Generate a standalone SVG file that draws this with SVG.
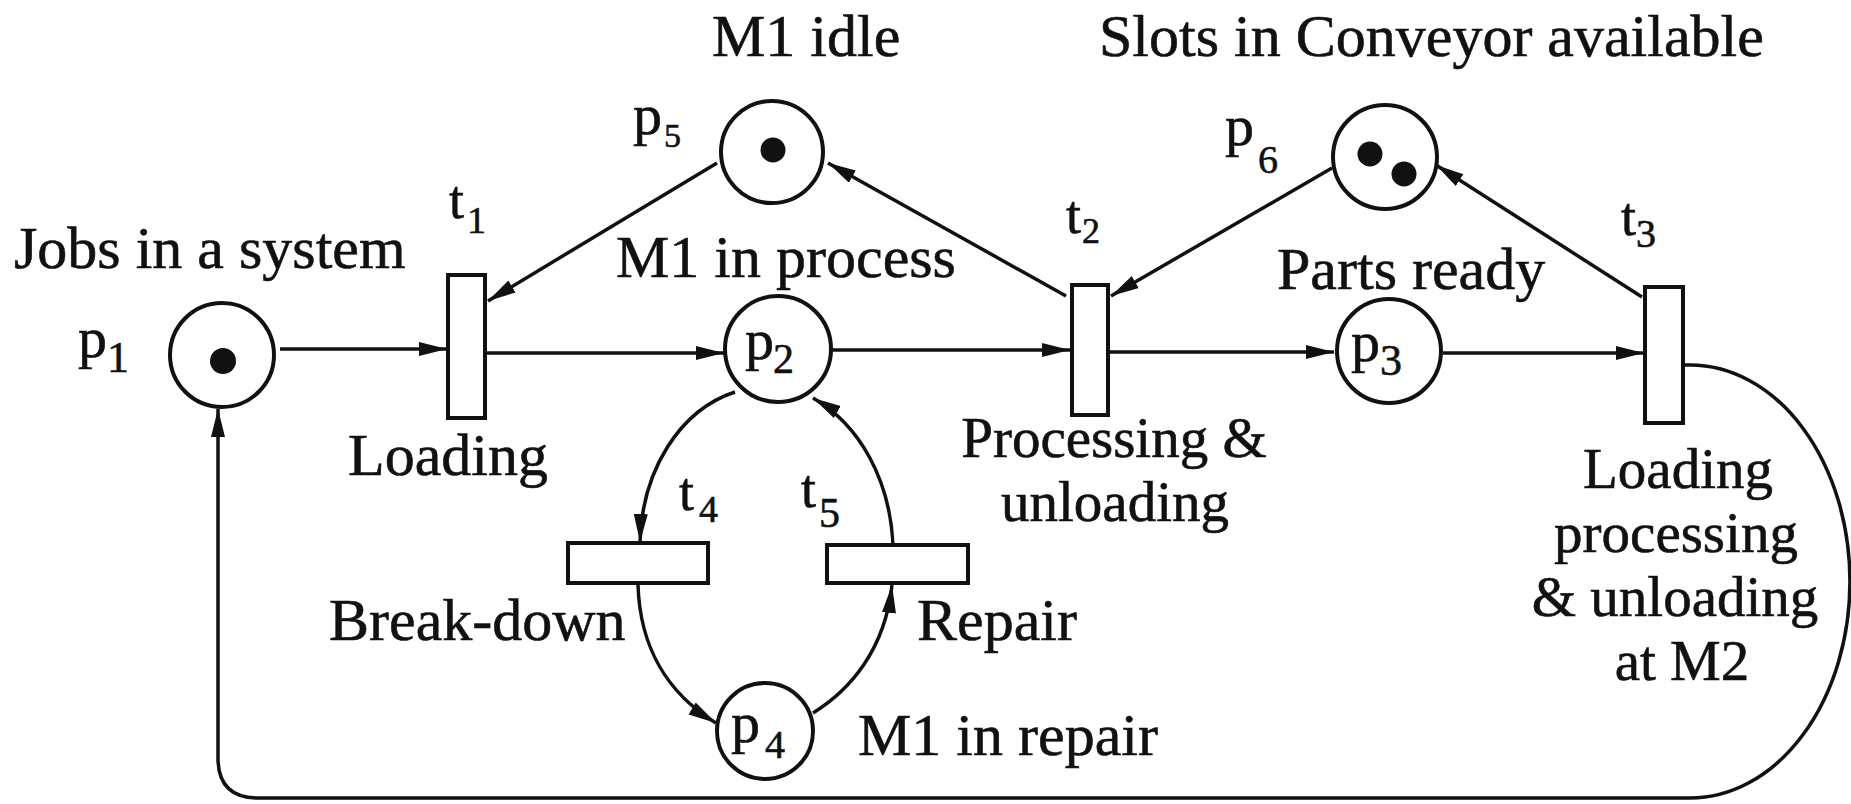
<svg xmlns="http://www.w3.org/2000/svg" width="1851" height="804" viewBox="0 0 1851 804">
<style>
.lbl{font-family:"Liberation Serif","Times New Roman",serif;font-size:60px;fill:#111;stroke:#111;stroke-width:0.6}
.ml{font-family:"Liberation Serif","Times New Roman",serif;font-size:57px;fill:#111;stroke:#111;stroke-width:0.6}
.pl{font-family:"Liberation Serif","Times New Roman",serif;font-size:58px;fill:#111;stroke:#111;stroke-width:0.6}
.tl{font-family:"Liberation Serif","Times New Roman",serif;font-size:54px;fill:#111;stroke:#111;stroke-width:0.6}
.place{fill:#fff;stroke:#111;stroke-width:4}
.trans{fill:#fff;stroke:#111;stroke-width:4}
.tok{fill:#111}
.arc{fill:none;stroke:#111;stroke-width:3.5}
</style>
<defs>
<marker id="ah" markerUnits="userSpaceOnUse" markerWidth="30" markerHeight="16" refX="28" refY="7" orient="auto">
<path d="M0,0 L28,7 L0,14 z" fill="#111"/>
</marker>
</defs>
<rect width="1851" height="804" fill="#fff"/>

<g id="connectors">
<path class="arc" d="M280,349 L447,349" marker-end="url(#ah)"/>
<path class="arc" d="M485,353 L724,353" marker-end="url(#ah)"/>
<path class="arc" d="M832,350 L1070,350" marker-end="url(#ah)"/>
<path class="arc" d="M1108,352 L1334,352" marker-end="url(#ah)"/>
<path class="arc" d="M1443,353 L1644,353" marker-end="url(#ah)"/>
<path class="arc" d="M717,163 L488,301" marker-end="url(#ah)"/>
<path class="arc" d="M1066,296 L828,163" marker-end="url(#ah)"/>
<path class="arc" d="M1332,168 L1111,296" marker-end="url(#ah)"/>
<path class="arc" d="M1642,297 L1436,165" marker-end="url(#ah)"/>
<path class="arc" d="M735,392 C680,410 642,470 640,542" marker-end="url(#ah)"/>
<path class="arc" d="M638,585 C640,650 670,695 716,723" marker-end="url(#ah)"/>
<path class="arc" d="M813,713 C850,690 885,650 892,585" marker-end="url(#ah)"/>
<path class="arc" d="M893,545 C890,480 860,425 813,398" marker-end="url(#ah)"/>
<path class="arc" d="M1683,365 L1690,365 A160,216.5 0 0 1 1690,798 L258,798 Q218,798 218,758 L218,409" marker-end="url(#ah)"/>
</g>

<g id="p1">
<circle class="place" cx="222" cy="355" r="52"/>
<circle class="tok" cx="223" cy="361" r="13"/>
<text class="pl" x="78" y="357">p<tspan x="107" y="372" font-size="44">1</tspan></text>
<text class="lbl" x="14" y="268">Jobs in a system</text>
</g>
<g id="p2">
<circle class="place" cx="778" cy="349" r="53"/>
<text class="pl" x="745" y="359">p<tspan x="773" y="373" font-size="42">2</tspan></text>
<text class="lbl" x="616" y="277">M1 in process</text>
</g>
<g id="p3">
<circle class="place" cx="1389" cy="351" r="52"/>
<text class="pl" x="1351" y="361">p<tspan x="1380" y="375" font-size="44">3</tspan></text>
<text class="lbl" x="1277" y="289">Parts ready</text>
</g>
<g id="p4">
<circle class="place" cx="765" cy="731" r="48"/>
<text class="pl" x="731" y="742" font-size="48">p<tspan x="765" y="758" font-size="40">4</tspan></text>
<text class="lbl" x="858" y="755">M1 in repair</text>
</g>
<g id="p5">
<circle class="place" cx="772" cy="152" r="51"/>
<circle class="tok" cx="773" cy="150" r="12.5"/>
<text class="pl" x="633" y="134" font-size="44">p<tspan x="664" y="147" font-size="34">5</tspan></text>
<text class="lbl" x="712" y="56">M1 idle</text>
</g>
<g id="p6">
<circle class="place" cx="1385" cy="157" r="52"/>
<circle class="tok" cx="1370" cy="154" r="12.5"/>
<circle class="tok" cx="1404" cy="174" r="12.5"/>
<text class="pl" x="1225" y="145">p<tspan x="1258" y="173" font-size="40">6</tspan></text>
<text class="lbl" x="1099" y="56">Slots in Conveyor available</text>
</g>
<g id="t1">
<rect class="trans" x="448" y="275" width="37" height="143"/>
<text class="tl" x="449" y="218">t<tspan x="467" y="233" font-size="38">1</tspan></text>
<text class="lbl" x="348" y="475">Loading</text>
</g>
<g id="t2">
<rect class="trans" x="1072" y="285" width="36" height="130"/>
<text class="tl" x="1066" y="233">t<tspan x="1082" y="243" font-size="36">2</tspan></text>
<text class="ml" text-anchor="middle"><tspan x="1114" y="457">Processing &amp;</tspan><tspan x="1115" y="521">unloading</tspan></text>
</g>
<g id="t3">
<rect class="trans" x="1645" y="287" width="38" height="136"/>
<text class="tl" x="1621" y="235">t<tspan x="1636" y="247" font-size="40">3</tspan></text>
<text class="ml" text-anchor="middle"><tspan x="1678" y="488">Loading</tspan><tspan x="1676" y="552">processing</tspan><tspan x="1675" y="616">&amp; unloading</tspan><tspan x="1682" y="680">at M2</tspan></text>
</g>
<g id="t4">
<rect class="trans" x="568" y="543" width="140" height="40"/>
<text class="tl" x="679" y="510">t<tspan x="699" y="522" font-size="38">4</tspan></text>
<text class="lbl" x="329" y="640">Break-down</text>
</g>
<g id="t5">
<rect class="trans" x="827" y="545" width="141" height="38"/>
<text class="tl" x="801" y="507">t<tspan x="819" y="527" font-size="42">5</tspan></text>
<text class="lbl" x="917" y="640">Repair</text>
</g>
</svg>
